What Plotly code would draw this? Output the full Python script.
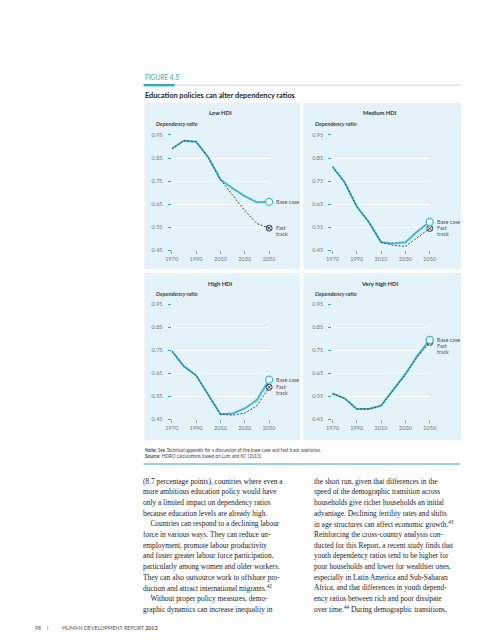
import plotly.graph_objects as go

# ---------------- data ----------------
years = [1970, 1980, 1990, 2000, 2010, 2020, 2030, 2040, 2050]
year_ticks = [1970, 1990, 2010, 2030, 2050]
ratio_ticks = [0.45, 0.55, 0.65, 0.75, 0.85, 0.95]

low_base = [0.890, 0.925, 0.921, 0.853, 0.757, 0.719, 0.685, 0.658, 0.660]
low_fast = [0.890, 0.925, 0.921, 0.853, 0.757, 0.688, 0.622, 0.566, 0.546]
med_base = [0.813, 0.745, 0.640, 0.572, 0.485, 0.480, 0.485, 0.533, 0.573]
med_fast = [0.813, 0.745, 0.640, 0.572, 0.485, 0.472, 0.467, 0.508, 0.545]
high_base = [0.748, 0.681, 0.642, 0.559, 0.473, 0.476, 0.498, 0.535, 0.623]
high_fast = [0.748, 0.681, 0.642, 0.559, 0.473, 0.469, 0.478, 0.510, 0.590]
vhigh_base = [0.563, 0.542, 0.496, 0.496, 0.510, 0.578, 0.648, 0.729, 0.796]
vhigh_fast = [0.563, 0.542, 0.496, 0.496, 0.510, 0.576, 0.645, 0.724, 0.785]

panel_titles = ["Low HDI", "Medium HDI", "High HDI", "Very high HDI"]

left_col = [
    "(8.7 percentage points), countries where even a",
    "more ambitious education policy would have",
    "only a limited impact on dependency ratios",
    "because education levels are already high.",
    "\u2003Countries can respond to a declining labour",
    "force in various ways. They can reduce un-",
    "employment, promote labour productivity",
    "and foster greater labour force participation,",
    "particularly among women and older workers.",
    "They can also outsource work to offshore pro-",
    "duction and attract international migrants.<sup>42</sup>",
    "\u2003Without proper policy measures, demo-",
    "graphic dynamics can increase inequality in",
]
right_col = [
    "the short run, given that differences in the",
    "speed of the demographic transition across",
    "households give richer households an initial",
    "advantage. Declining fertility rates and shifts",
    "in age structures can affect economic growth.<sup>43</sup>",
    "Reinforcing the cross-country analysis con-",
    "ducted for this Report, a recent study finds that",
    "youth dependency ratios tend to be higher for",
    "poor households and lower for wealthier ones,",
    "especially in Latin America and Sub-Saharan",
    "Africa, and that differences in youth depend-",
    "ency ratios between rich and poor dissipate",
    "over time.<sup>44</sup> During demographic transitions,",
]

# ---------------- styling / layout ----------------
W, H = 495, 640
SANS = "Lato, Roboto, sans-serif"
SERIF = "Liberation Serif, DejaVu Serif, serif"
TEAL = "#2fa8c0"
BASE_C = "#3dbad0"
FAST_C = "#454545"
PANEL_BG = "#e4f2fa"


def px(x):
    return x / W


def py(y):
    return 1 - y / H


series = [(low_base, low_fast), (med_base, med_fast), (high_base, high_fast), (vhigh_base, vhigh_fast)]
# geometry of each panel: (x of 1970, x of 2050, y of 0.95, y of 0.45, panel box)
geo = [
    (162, 262, 124.3, 241.0, (134, 92, 294, 260)),
    (327, 427, 124.3, 241.0, (297, 92, 459, 260)),
    (162, 262, 295.7, 412.0, (134, 264, 294, 433)),
    (327, 427, 295.7, 412.0, (297, 264, 459, 433)),
]
fast_label_shift = [0, 0, 0, -4]

fig = go.Figure()
annotations = []
shapes = []

for i, ((base, fast), (gx0, gx1, gyt, gyb, box), title) in enumerate(zip(series, geo, panel_titles)):
    n = "" if i == 0 else str(i + 1)
    xa, ya = "x" + n, "y" + n
    fig.add_trace(go.Scatter(x=years, y=base, xaxis=xa, yaxis=ya, mode="lines",
                             line=dict(color=BASE_C, width=2), cliponaxis=False,
                             showlegend=False, hoverinfo="skip"))
    fig.add_trace(go.Scatter(x=years, y=fast, xaxis=xa, yaxis=ya, mode="lines",
                             line=dict(color=FAST_C, width=1, dash="2px,1.6px"), cliponaxis=False,
                             showlegend=False, hoverinfo="skip"))
    fig.add_trace(go.Scatter(x=[years[-1]], y=[fast[-1]], xaxis=xa, yaxis=ya, mode="markers",
                             marker=dict(symbol="circle-x-open", size=6, color=FAST_C,
                                         line=dict(width=1, color=FAST_C)),
                             cliponaxis=False, showlegend=False, hoverinfo="skip"))
    fig.add_trace(go.Scatter(x=[years[-1]], y=[base[-1]], xaxis=xa, yaxis=ya, mode="markers",
                             marker=dict(symbol="circle", size=7, color="white",
                                         line=dict(width=1.3, color=BASE_C)),
                             cliponaxis=False, showlegend=False, hoverinfo="skip"))

    fig.layout["xaxis" + n] = dict(
        domain=[px(gx0), px(gx1)], range=[1970, 2050], anchor=ya,
        tickvals=year_ticks, ticks="outside", ticklen=3, tickwidth=1, tickcolor="#8aa9b0",
        showgrid=False, zeroline=False, showline=False, fixedrange=True,
        tickfont=dict(family=SANS, size=5.6, color="#777777"))
    fig.layout["yaxis" + n] = dict(
        domain=[py(gyb), py(gyt)], range=[0.45, 0.95], anchor=xa,
        tickvals=ratio_ticks, tickformat=".2f", ticks="outside", ticklen=3, tickwidth=1,
        tickcolor=TEAL, ticklabelstandoff=4,
        showgrid=True, gridcolor="white", gridwidth=1, zeroline=False, showline=False,
        fixedrange=True, tickfont=dict(family=SANS, size=5.6, color="#777777"))

    bx0, by0, bx1, by1 = box
    shapes.append(dict(type="rect", xref="paper", yref="paper", x0=px(bx0), x1=px(bx1),
                       y0=py(by1), y1=py(by0), fillcolor=PANEL_BG, line=dict(width=0), layer="below"))
    annotations.append(dict(xref="paper", yref="paper", x=px((bx0 + bx1) / 2 - 2), y=py(by0 + 10),
                            text="<b>" + title + "</b>", showarrow=False, xanchor="center", yanchor="middle",
                            font=dict(family=SANS, size=5.8, color="#333333")))
    annotations.append(dict(xref="paper", yref="paper", x=px(bx0 + 10), y=py(by0 + 21),
                            text="<i><b>Dependency ratio</b></i>", showarrow=False, xanchor="left",
                            yanchor="middle", font=dict(family=SANS, size=5.6, color="#444444")))
    annotations.append(dict(xref=xa, yref=ya, x=years[-1], y=base[-1], xshift=5, text="Base case",
                            showarrow=False, xanchor="left", yanchor="middle",
                            font=dict(family=SANS, size=5.4, color="#555555")))
    annotations.append(dict(xref=xa, yref=ya, x=years[-1], y=fast[-1], xshift=5,
                            yshift=fast_label_shift[i], text="Fast",
                            showarrow=False, xanchor="left", yanchor="middle",
                            font=dict(family=SANS, size=5.4, color="#555555")))
    annotations.append(dict(xref=xa, yref=ya, x=years[-1], y=fast[-1], xshift=5,
                            yshift=fast_label_shift[i] - 5.8, text="track",
                            showarrow=False, xanchor="left", yanchor="middle",
                            font=dict(family=SANS, size=5.4, color="#555555")))


def txt(x, y, s, size, color="#222222", family=SANS, anchor="left"):
    annotations.append(dict(xref="paper", yref="paper", x=px(x), y=py(y), text=s, showarrow=False,
                            xanchor=anchor, yanchor="middle", font=dict(family=family, size=size, color=color)))


# header
txt(132, 66, "FIGURE 4.5", 6.6, TEAL)
txt(132, 84, "<b>Education policies can alter dependency ratios</b>", 7.3, "#222222")
shapes.append(dict(type="rect", xref="paper", yref="paper", x0=px(133), x1=px(165), y0=py(75.2), y1=py(72.8),
                   fillcolor=TEAL, line=dict(width=0)))
shapes.append(dict(type="line", xref="paper", yref="paper", x0=px(165), x1=px(459), y0=py(74), y1=py(74),
                   line=dict(color="#9fd6e3", width=0.7)))

# note / source
txt(132, 443, "<b>Note:</b> See <i>Technical appendix</i> for a discussion of the base case and fast track scenarios.",
    4.7, "#444444")
txt(132, 448.5, "<b>Source:</b> HDRO calculations based on Lutz and KC (2013).", 4.7, "#444444")
shapes.append(dict(type="line", xref="paper", yref="paper", x0=px(133), x1=px(458), y0=py(457), y1=py(457),
                   line=dict(color=TEAL, width=1)))

# body text
for k, line in enumerate(left_col):
    txt(130, 474.3 + k * 10.8, line, 7.4, "#222222", SERIF)
for k, line in enumerate(right_col):
    txt(306, 474.3 + k * 10.8, line, 7.4, "#222222", SERIF)

# footer
txt(19, 623, "98", 5.3, "#555555")
txt(32, 623, "|", 5.3, "#555555")
txt(47, 623, "HUMAN DEVELOPMENT REPORT <b>2013</b>", 5.3, "#555555")

fig.update_layout(width=W, height=H, margin=dict(l=0, r=0, t=0, b=0), autosize=False,
                  paper_bgcolor="white", plot_bgcolor="rgba(0,0,0,0)",
                  shapes=shapes, annotations=annotations, showlegend=False)

fig.write_html("out.html")
